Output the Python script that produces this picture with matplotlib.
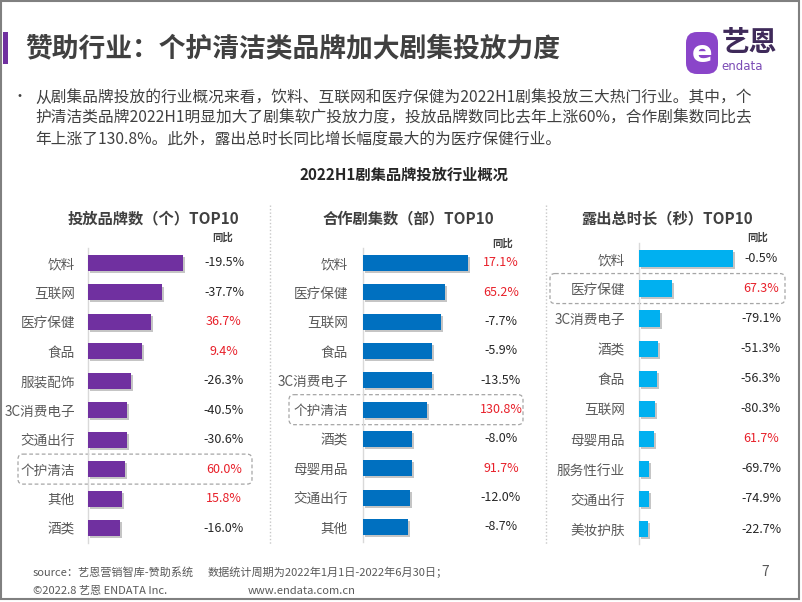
import matplotlib
matplotlib.use("Agg")
import matplotlib.pyplot as plt
from matplotlib.patches import Rectangle, FancyBboxPatch
from matplotlib import patheffects as pe

plt.rcParams['font.family'] = ['Noto Sans CJK SC', 'DejaVu Sans']

# ---------------- data ----------------
brand_cats = ["饮料", "互联网", "医疗保健", "食品", "服装配饰", "3C消费电子", "交通出行", "个护清洁", "其他", "酒类"]
brand_vals = [95, 74, 63, 54, 43, 39, 39, 37, 34, 32]
brand_yoy = [-19.5, -37.7, 36.7, 9.4, -26.3, -40.5, -30.6, 60.0, 15.8, -16.0]

drama_cats = ["饮料", "医疗保健", "互联网", "食品", "3C消费电子", "个护清洁", "酒类", "母婴用品", "交通出行", "其他"]
drama_vals = [105, 82, 78, 69, 69, 64, 49, 49, 47, 45]
drama_yoy = [17.1, 65.2, -7.7, -5.9, -13.5, 130.8, -8.0, 91.7, -12.0, -8.7]

expo_cats = ["饮料", "医疗保健", "3C消费电子", "酒类", "食品", "互联网", "母婴用品", "服务性行业", "交通出行", "美妆护肤"]
expo_vals = [94, 33, 21, 19, 18, 16, 15, 10, 10, 9]
expo_yoy = [-0.5, 67.3, -79.1, -51.3, -56.3, -80.3, 61.7, -69.7, -74.9, -22.7]

panel_titles = ["投放品牌数（个）TOP10", "合作剧集数（部）TOP10", "露出总时长（秒）TOP10"]
highlight = ["个护清洁", "个护清洁", "医疗保健"]

W, H = 802, 602
fig = plt.figure(figsize=(W / 100, H / 100), dpi=100)
bg = fig.add_axes([0, 0, 1, 1])
bg.set_xlim(0, W)
bg.set_ylim(H, 0)
bg.axis("off")
bg.set_zorder(0)

DARK = "#404040"
GRAY = "#595959"
RED = "#E8202A"

# frame
bg.add_patch(Rectangle((1, 1), 798, 598, fill=False, ec="#808080", lw=1.5))
# title
bg.add_patch(Rectangle((3, 32), 4.5, 32, color="#7030A0", lw=0))
bg.text(25, 48, "赞助行业：个护清洁类品牌加大剧集投放力度", fontsize=19.3, fontweight="bold",
        color=DARK, va="center", ha="left")

# logo
bg.add_patch(FancyBboxPatch((688, 34), 28, 38, boxstyle="round,pad=2,rounding_size=11",
                            fc="#8A45C9", ec="none"))
bg.text(702, 54, "e", fontsize=22, fontweight="bold", color="white", ha="center", va="center",
        family=["DejaVu Sans"])
bg.text(722, 43, "艺恩", fontsize=20, fontweight="bold", color="#3F2A5A", ha="left", va="center")
bg.text(721, 67, "endata", fontsize=8.5, color="#7B4BB5", ha="left", va="center",
        family=["DejaVu Sans"])

# body text
lines = ["从剧集品牌投放的行业概况来看，饮料、互联网和医疗保健为2022H1剧集投放三大热门行业。其中，个",
         "护清洁类品牌2022H1明显加大了剧集软广投放力度，投放品牌数同比去年上涨60%，合作剧集数同比去",
         "年上涨了130.8%。此外，露出总时长同比增长幅度最大的为医疗保健行业。"]
bg.text(12, 97, "•", fontsize=10, color=DARK, va="center", ha="left")
for i, ln in enumerate(lines):
    bg.text(35, 97 + i * 21.5, ln, fontsize=11.3, color=DARK, va="center", ha="left")

bg.text(404, 175, "2022H1剧集品牌投放行业概况", fontsize=11, fontweight="bold",
        color="#262626", ha="center", va="center")

# separators
for x in (270, 546):
    bg.plot([x, x], [205, 545], color="#C8C8C8", lw=1, ls=(0, (1, 1.5)))

# panels
panels = [
    dict(cats=brand_cats, vals=brand_vals, yoy=brand_yoy, color="#7030A0", x0=88, w=170,
         y0=263, y9=528, pct_x=224, tb_y=238, tb_x=223, head_x=153, box=(18, 252), pad=9.4),
    dict(cats=drama_cats, vals=drama_vals, yoy=drama_yoy, color="#0070C0", x0=362.7, w=170,
         y0=263, y9=527, pct_x=501, tb_y=244, tb_x=503, head_x=408, box=(289, 523), pad=10.5),
    dict(cats=expo_cats, vals=expo_vals, yoy=expo_yoy, color="#00B0F0", x0=639, w=140,
         y0=258.5, y9=529, pct_x=761, tb_y=238, tb_x=758, head_x=667, box=(550, 785), pad=10),
]

for p, title, hl in zip(panels, panel_titles, highlight):
    n = len(p["cats"])
    s = (p["y9"] - p["y0"]) / (n - 1)
    top = p["y0"] - s / 2
    bot = p["y9"] + s / 2
    ax = fig.add_axes([p["x0"] / W, 1 - bot / H, p["w"] / W, (bot - top) / H])
    ax.set_zorder(2)
    ax.patch.set_alpha(0)
    bars = ax.barh(range(n), p["vals"], height=0.54, color=p["color"], zorder=3)
    for b in bars:
        b.set_path_effects([pe.SimplePatchShadow(offset=(1.5, -1.5), shadow_rgbFace="#808080", alpha=0.45),
                            pe.Normal()])
    ax.set_xlim(0, p["w"])
    ax.set_ylim(n - 0.5, -0.5)
    ax.set_yticks(range(n))
    ax.set_yticklabels(p["cats"], fontsize=9.8, color=GRAY)
    ax.tick_params(axis="y", length=0, pad=p["pad"])
    ax.set_xticks([])
    for sp in ("top", "right", "bottom"):
        ax.spines[sp].set_visible(False)
    ax.spines["left"].set_color("#D9D9D9")
    ax.spines["left"].set_linewidth(1)
    tr = ax.get_yaxis_transform()
    px = (p["pct_x"] - p["x0"]) / p["w"]
    for i, v in enumerate(p["yoy"]):
        ax.text(px, i, f"{v:.1f}%", transform=tr, ha="center", va="center", fontsize=9,
                color=RED if v > 0 else "#262626", clip_on=False)
    # headings
    bg.text(p["head_x"], 218, title, fontsize=11, fontweight="bold", color=DARK, ha="center", va="center")
    bg.text(p["tb_x"], p["tb_y"], "同比", fontsize=7.5, fontweight="bold", color=DARK, ha="center", va="center")
    # dashed highlight box
    k = p["cats"].index(hl)
    yc = p["y0"] + k * s
    x1, x2 = p["box"]
    bg.add_patch(FancyBboxPatch((x1, yc - 15), x2 - x1, 30, boxstyle="round,pad=0,rounding_size=5",
                                fill=False, ec="#A6A6A6", lw=0.9, ls=(0, (3, 2))))

# footer
bg.text(33, 572, "source：艺恩营销智库-赞助系统", fontsize=8, color=GRAY, ha="left", va="center")
bg.text(208, 572, "数据统计周期为2022年1月1日-2022年6月30日；", fontsize=8, color=GRAY, ha="left", va="center")
bg.text(33, 591, "©2022.8 艺恩 ENDATA Inc.", fontsize=8, color=GRAY, ha="left", va="center")
bg.text(248, 591, "www.endata.com.cn", fontsize=8, color=GRAY, ha="left", va="center")
bg.text(765, 572, "7", fontsize=10, color=GRAY, ha="center", va="center")

fig.savefig("out.png", dpi=100)
